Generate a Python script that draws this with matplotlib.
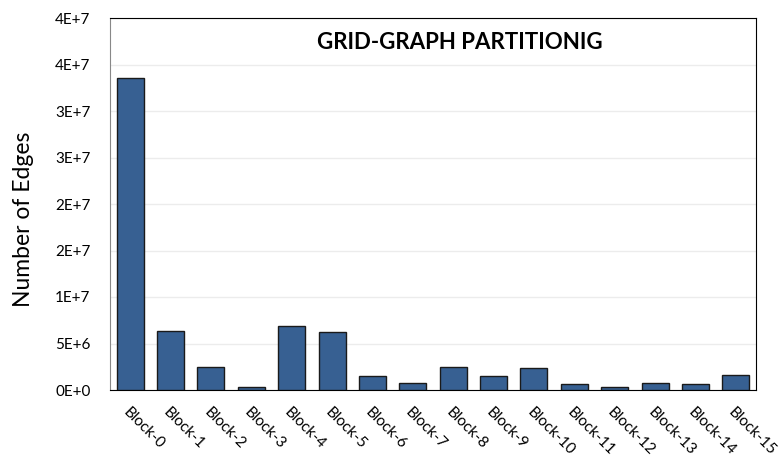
import matplotlib.pyplot as plt

plt.rcParams['font.family'] = ['Lato', 'DejaVu Sans']

blocks = ["Block-%d" % i for i in range(16)]
edges = [3.36e7, 6.38e6, 2.44e6, 0.29e6, 6.88e6, 6.24e6, 1.50e6, 0.79e6,
         2.44e6, 1.47e6, 2.33e6, 0.68e6, 0.29e6, 0.72e6, 0.61e6, 1.58e6]

yticks = [0, 5e6, 1e7, 1.5e7, 2e7, 2.5e7, 3e7, 3.5e7, 4e7]
ytick_labels = ["0E+0", "5E+6", "1E+7", "2E+7", "2E+7", "3E+7", "3E+7", "4E+7", "4E+7"]

fig = plt.figure(figsize=(7.84, 4.59), dpi=100)
ax = fig.add_axes([110 / 784, 1 - 390 / 459, 646 / 784, 372 / 459])

x = range(len(blocks))
ax.bar(x, edges, width=0.67, color="#376092", edgecolor="#1a1a1a", linewidth=1, zorder=3)

ax.set_xlim(-0.5, len(blocks) - 0.5)
ax.set_ylim(0, 4e7)
ax.set_yticks(yticks)
ax.set_yticklabels(ytick_labels, fontsize=11)
ax.set_xticks(list(x))
ax.set_xticklabels(blocks, rotation=-45, ha="left", va="top", rotation_mode="anchor", fontsize=11)
ax.tick_params(axis="y", length=0, pad=14)
ax.tick_params(axis="x", length=0, pad=11)

ax.grid(axis="y", color="#ececec", linewidth=1, zorder=0)
ax.spines["left"].set_color("#888888")
for s in ["top", "right", "bottom"]:
    ax.spines[s].set_color("black")

ax.set_ylabel("Number of Edges", fontsize=16.5)
ax.yaxis.set_label_coords(-0.118, 0.46)
ax.text(0.542, 0.933, "GRID-GRAPH PARTITIONIG", transform=ax.transAxes,
        ha="center", va="center", fontsize=16, fontweight="bold")

fig.savefig("out.png", dpi=100)
